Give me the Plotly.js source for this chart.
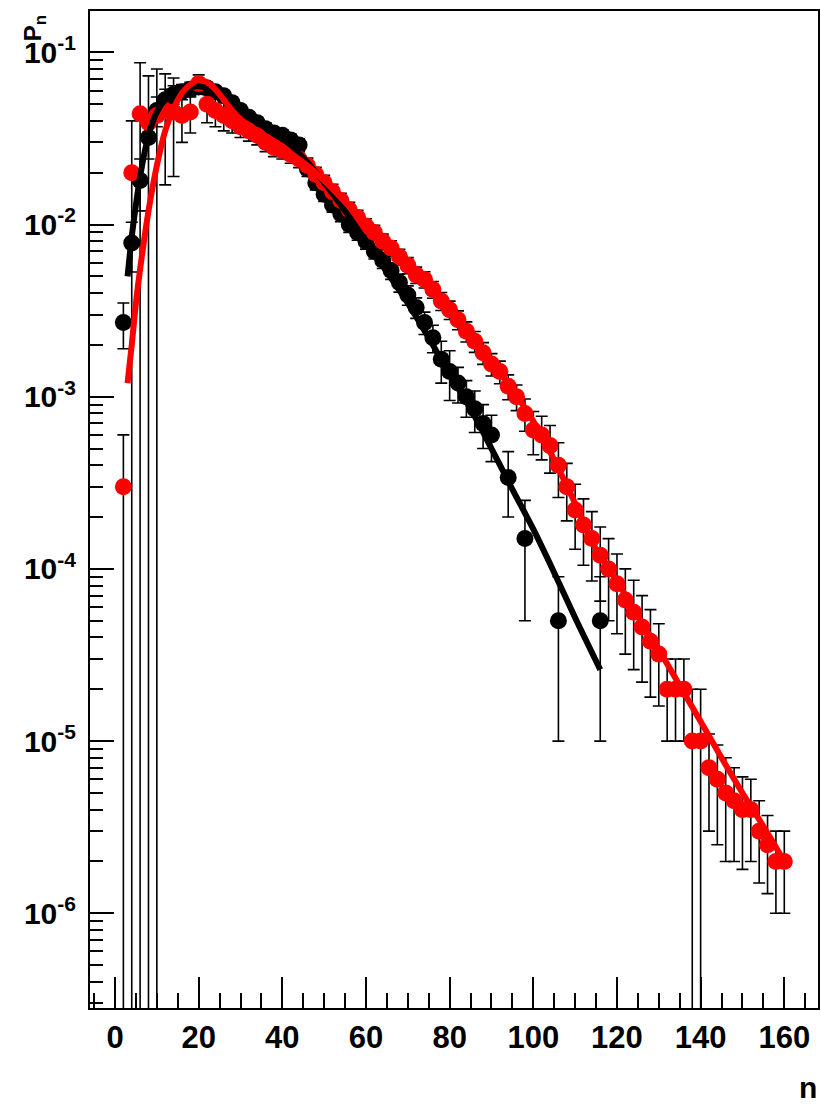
<!DOCTYPE html>
<html><head><meta charset="utf-8">
<script src="https://cdn.plot.ly/plotly-3.0.1.min.js"></script>
<style>html,body{margin:0;padding:0;background:#fff}</style>
</head><body><div id="chart" style="width:821px;height:1104px"></div>
<script>
// ---- black data points ----
const blackX = [2,4,6,8,10,12,14,16,18,20,22,24,26,28,30,32,34,36,38,40,42,44,46,48,50,52,54,56,58,60,62,64,66,68,70,72,74,76,78,80,82,84,86,88,90,94,98,106,116];
const blackY = [2.7e-3,7.8e-3,1.8e-2,3.2e-2,4.6e-2,5.3e-2,5.7e-2,5.9e-2,6.1e-2,6.3e-2,6.2e-2,5.9e-2,5.6e-2,5.1e-2,4.6e-2,4.2e-2,3.9e-2,3.6e-2,3.4e-2,3.3e-2,3.1e-2,2.9e-2,2.1e-2,1.75e-2,1.5e-2,1.3e-2,1.15e-2,1.0e-2,9.0e-3,8.0e-3,7.0e-3,6.2e-3,5.4e-3,4.6e-3,3.9e-3,3.3e-3,2.7e-3,2.2e-3,1.65e-3,1.4e-3,1.2e-3,1.0e-3,8.5e-4,7.0e-4,6.0e-4,3.4e-4,1.5e-4,5e-5,5e-5];
const blackErrUp = [8e-4,2.5e-3,6e-3,8e-3,9e-3,8e-3,7e-3,6e-3,6e-3,5e-3,5e-3,4e-3,4e-3,4e-3,3e-3,3e-3,3e-3,3e-3,2.5e-3,2.5e-3,2.5e-3,2.5e-3,2e-3,1.6e-3,1.4e-3,1.2e-3,1.1e-3,1e-3,9e-4,8e-4,7e-4,6.5e-4,6e-4,5.5e-4,5e-4,4.5e-4,4e-4,4e-4,4.5e-4,4.5e-4,2.8e-4,2.4e-4,2.3e-4,2e-4,1.8e-4,1.4e-4,1.0e-4,4e-5,4e-5];
const blackErrDown = blackErrUp;

// ---- red data points ----
const redX = [2,4,6,8,10,12,14,16,18,20,22,24,26,28,30,32,34,36,38,40,42,44,46,48,50,52,54,56,58,60,62,64,66,68,70,72,74,76,78,80,82,84,86,88,90,92,94,96,98,100,102,104,106,108,110,112,114,116,118,120,122,124,126,128,130,132,134,136,138,140,142,144,146,148,150,152,154,156,158,160];
const redY = [3.0e-4,2.0e-2,4.4e-2,3.9e-2,4.3e-2,4.6e-2,4.5e-2,4.3e-2,4.5e-2,6.6e-2,5.0e-2,4.6e-2,4.3e-2,4.0e-2,3.7e-2,3.5e-2,3.3e-2,3.0e-2,2.8e-2,2.7e-2,2.55e-2,2.4e-2,2.2e-2,1.95e-2,1.75e-2,1.55e-2,1.38e-2,1.22e-2,1.1e-2,9.8e-3,9.0e-3,8.0e-3,7.3e-3,6.5e-3,5.8e-3,5.1e-3,4.8e-3,4.2e-3,3.6e-3,3.2e-3,2.8e-3,2.4e-3,2.1e-3,1.8e-3,1.55e-3,1.4e-3,1.15e-3,1.0e-3,8.0e-4,6.4e-4,6.0e-4,5.2e-4,4.0e-4,3.0e-4,2.2e-4,1.8e-4,1.5e-4,1.2e-4,1.0e-4,8.2e-5,6.6e-5,5.6e-5,4.6e-5,3.8e-5,3.2e-5,2.0e-5,2.0e-5,2.0e-5,1.0e-5,1.0e-5,7.0e-6,6.0e-6,5.0e-6,4.5e-6,4.0e-6,4.0e-6,3.0e-6,2.5e-6,2.0e-6,2.0e-6];
const redErrUp = [3e-4,2e-2,4.3e-2,3.4e-2,3.7e-2,2.9e-2,2.6e-2,1.3e-2,1.1e-2,8e-3,1.1e-2,9e-3,8e-3,6e-3,5e-3,4.5e-3,4e-3,3.5e-3,3.2e-3,3e-3,2.8e-3,2.6e-3,2.3e-3,2e-3,1.8e-3,1.6e-3,1.4e-3,1.25e-3,1.1e-3,1.0e-3,9e-4,8e-4,7.5e-4,6.8e-4,6.2e-4,5.6e-4,5.2e-4,4.7e-4,4.3e-4,3.9e-4,3.5e-4,3.2e-4,2.9e-4,2.6e-4,2.3e-4,2.1e-4,1.9e-4,1.7e-4,1.7e-4,1.8e-4,1.7e-4,1.6e-4,1.4e-4,1.1e-4,9e-5,7.5e-5,6.5e-5,5.5e-5,5e-5,4e-5,3.4e-5,3e-5,2.4e-5,2e-5,1.6e-5,1e-5,1e-5,1e-5,1e-5,1e-5,4e-6,3.5e-6,3e-6,2.5e-6,2.2e-6,2e-6,1.5e-6,1.2e-6,1e-6,1e-6];
const redErrDown = [3e-4,2e-2,4.4e-2,3.9e-2,4.3e-2,2.9e-2,2.6e-2,1.3e-2,1.1e-2,8e-3,1.1e-2,9e-3,8e-3,6e-3,5e-3,4.5e-3,4e-3,3.5e-3,3.2e-3,3e-3,2.8e-3,2.6e-3,2.3e-3,2e-3,1.8e-3,1.6e-3,1.4e-3,1.25e-3,1.1e-3,1.0e-3,9e-4,8e-4,7.5e-4,6.8e-4,6.2e-4,5.6e-4,5.2e-4,4.7e-4,4.3e-4,3.9e-4,3.5e-4,3.2e-4,2.9e-4,2.6e-4,2.3e-4,2.1e-4,1.9e-4,1.7e-4,1.7e-4,1.8e-4,1.7e-4,1.6e-4,1.4e-4,1.1e-4,9e-5,7.5e-5,6.5e-5,5.5e-5,5e-5,4e-5,3.4e-5,3e-5,2.4e-5,2e-5,1.6e-5,1e-5,1e-5,1e-5,1e-5,1e-5,4e-6,3.5e-6,3e-6,2.5e-6,2.2e-6,2e-6,1.5e-6,1.2e-6,1e-6,1e-6];

// ---- fit curves ----
const blackFitX = [3,4,5,6,8,10,12,14,16,18,20,22,24,26,28,30,34,38,42,46,50,55,60,65,70,75,80,85,90,95,100,105,110,116];
const blackFitY = [5.0e-3,8.5e-3,1.3e-2,1.9e-2,3.3e-2,4.5e-2,5.3e-2,5.8e-2,6.1e-2,6.3e-2,6.35e-2,6.2e-2,5.8e-2,5.3e-2,4.9e-2,4.5e-2,3.9e-2,3.4e-2,2.9e-2,2.3e-2,1.75e-2,1.2e-2,8.0e-3,5.3e-3,3.5e-3,2.2e-3,1.35e-3,8.5e-4,5.0e-4,2.9e-4,1.7e-4,9.5e-5,5.2e-5,2.6e-5];
const redFitX = [3,4,5,6,8,10,12,14,16,18,20,22,24,26,28,30,34,38,42,46,50,55,60,65,70,75,80,85,90,95,100,105,110,115,120,125,130,135,140,145,150,155,160];
const redFitY = [1.2e-3,2.0e-3,3.5e-3,5.5e-3,1.2e-2,2.2e-2,3.5e-2,4.7e-2,5.8e-2,6.5e-2,6.9e-2,6.7e-2,6.1e-2,5.3e-2,4.6e-2,4.1e-2,3.5e-2,3.05e-2,2.6e-2,2.2e-2,1.8e-2,1.35e-2,1.0e-2,7.5e-3,5.6e-3,4.2e-3,3.1e-3,2.2e-3,1.6e-3,1.1e-3,7.2e-4,4.3e-4,2.4e-4,1.3e-4,8.5e-5,5.3e-5,3.4e-5,2.1e-5,1.3e-5,8.0e-6,5.0e-6,3.2e-6,2.0e-6];

// ---- axis ticks ----
const xTickStep = 20;
const yTickVals = [1e-6,1e-5,1e-4,1e-3,1e-2,1e-1];
const yTickText = ['10<sup>-6</sup>','10<sup>-5</sup>','10<sup>-4</sup>','10<sup>-3</sup>','10<sup>-2</sup>','10<sup>-1</sup>'];
const yMinor = [];
for (let e = -7; e <= -1; e++) for (let d = 2; d <= 9; d++) yMinor.push(d * Math.pow(10, e));

const FONT = 'Liberation Sans, Arial, Helvetica, sans-serif';
const errStyle = {type:'data', symmetric:false, color:'#000', thickness:1.6, width:6};

const traces = [
  {x: blackX, y: blackY, type:'scatter', mode:'markers',
   marker:{color:'#000', size:17},
   error_y: Object.assign({array: blackErrUp, arrayminus: blackErrDown}, errStyle), hoverinfo:'x+y'},
  {x: redX, y: redY, type:'scatter', mode:'markers',
   marker:{color:'#ff0000', size:17},
   error_y: Object.assign({array: redErrUp, arrayminus: redErrDown}, errStyle), hoverinfo:'x+y'},
  {x: blackFitX, y: blackFitY, type:'scatter', mode:'lines',
   line:{color:'#000', width:6, shape:'spline', smoothing:0.8}},
  {x: redFitX, y: redFitY, type:'scatter', mode:'lines',
   line:{color:'#ff0000', width:6, shape:'spline', smoothing:0.8}}
];

const layout = {
  width: 821, height: 1104,
  margin: {l:90, r:3, t:11, b:96, pad:0},
  paper_bgcolor:'#fff', plot_bgcolor:'#fff',
  showlegend:false,
  font:{family:FONT, color:'#000'},
  xaxis:{
    range:[-5.98, 168.06], tickmode:'linear', tick0:0, dtick:xTickStep,
    ticks:'inside', ticklen:31, tickwidth:2, tickcolor:'#000',
    showline:true, linewidth:2, linecolor:'#000', mirror:true,
    showgrid:false, zeroline:false,
    tickfont:{family:FONT, size:31, weight:'bold', color:'#000'},
    ticklabelstandoff: 1,
    minor:{dtick:5, tick0:0, ticks:'inside', ticklen:15, tickwidth:2, tickcolor:'#000', showgrid:false}
  },
  yaxis:{
    type:'log', range:[-6.55, -0.76],
    tickmode:'array', tickvals:yTickVals, ticktext:yTickText,
    ticks:'inside', ticklen:24, tickwidth:2, tickcolor:'#000',
    showline:true, linewidth:2, linecolor:'#000', mirror:true,
    showgrid:false, zeroline:false,
    tickfont:{family:FONT, size:30, weight:'bold', color:'#000'},
    ticklabelstandoff: 6,
    minor:{tickmode:'array', tickvals:yMinor, ticks:'inside', ticklen:13, tickwidth:2, tickcolor:'#000', showgrid:false}
  },
  annotations:[
    {text:'P<sub>n</sub>', xref:'paper', yref:'paper', x:-0.075, y:0.983, textangle:-90,
     showarrow:false, xanchor:'center', yanchor:'middle',
     font:{family:FONT, size:24, weight:'bold', color:'#000'}},
    {text:'n', xref:'paper', yref:'paper', x:0.986, y:-0.080, showarrow:false,
     xanchor:'center', yanchor:'middle',
     font:{family:FONT, size:30, weight:'bold', color:'#000'}}
  ]
};

Plotly.newPlot('chart', traces, layout, {displayModeBar:false, staticPlot:true});
</script>
</body></html>
